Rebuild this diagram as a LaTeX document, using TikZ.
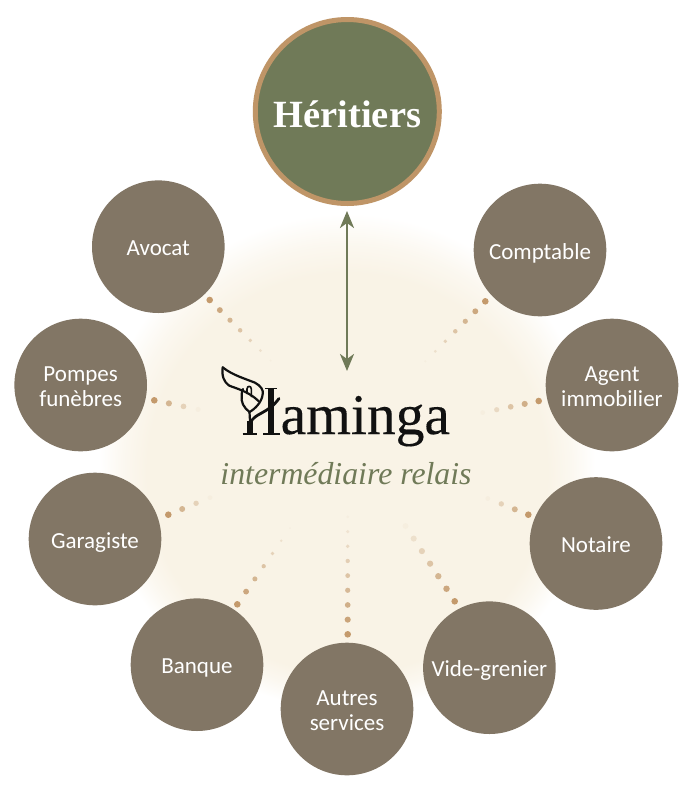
\documentclass[tikz,border=0pt]{standalone}
\usepackage{fontspec}
\setmainfont{Liberation Serif}
\newfontfamily\lblfont{Carlito}
\newfontfamily\logofont[FakeBold=0.25]{Liberation Serif}
\usetikzlibrary{arrows.meta}
\definecolor{greyb}{HTML}{827665}
\definecolor{oliveb}{HTML}{707A58}
\definecolor{ringb}{HTML}{BF9567}
\definecolor{dotb}{HTML}{C49A6C}
\definecolor{creamb}{HTML}{F9F3E6}
\definecolor{inkb}{HTML}{111111}
\pgfdeclareradialshading{glowb}{\pgfpoint{0bp}{-12bp}}{
  color(0bp)=(creamb); color(12.5bp)=(creamb); color(14bp)=(creamb!60!white); color(15.5bp)=(white); color(50bp)=(white)}
\newcommand{\lowered}[2][10.5pt]{\raisebox{-#1}[0pt][0pt]{\begin{tabular}{@{}c@{}}#2\end{tabular}}}
\tikzset{
  x=1pt,y=-1pt,
  svc/.style={circle,fill=greyb,minimum size=132.6pt,inner sep=0pt,text=white,
    font=\lblfont\fontsize{23}{24.8}\selectfont},
  top/.style={circle,fill=oliveb,draw=ringb,line width=5pt,minimum size=184pt,inner sep=0pt,text=white,
    font=\bfseries\fontsize{38.5}{42}\selectfont},
  logoline/.style={draw=inkb,line width=2.2pt,line cap=round,line join=round},
  hstem/.style={draw=inkb,line width=5.5pt},
  hserif/.style={draw=inkb,line width=1.7pt},
  link/.style={draw=oliveb,line width=2.4pt,{Stealth[length=17pt,width=14pt,inset=5pt]}-{Stealth[length=17pt,width=14pt,inset=5pt]}},
}
\newcommand{\dotrun}[7]{% x y dx dy n r0 r1
  \foreach \i in {1,...,#5}{
    \pgfmathsetmacro{\px}{#1+(\i-1)*(#3)}
    \pgfmathsetmacro{\py}{#2+(\i-1)*(#4)}
    \pgfmathsetmacro{\pr}{#6+(\i-1)*(#7-#6)/(#5-1)}
    \pgfmathsetmacro{\po}{1-0.95*(\i-1)/(#5-1)}
    \fill[dotb,opacity=\po] (\px,\py) circle (\pr);
  }}
\begin{document}
\begin{tikzpicture}
\useasboundingbox (0,0) rectangle (690,788);
\begin{scope}
\clip (0,0) rectangle (690,788);
\shade[shading=glowb] (347,329) circle (400);
\end{scope}
\dotrun{209.7}{300}{10.15}{10.1}{7}{3.3}{1.2}
\dotrun{154.3}{400.3}{14.6}{3.05}{4}{3.3}{2.6}
\dotrun{485.3}{301.3}{-10}{10}{7}{3.3}{1.2}
\dotrun{538.7}{401}{-14}{2.9}{5}{3.3}{2.4}
\dotrun{528.3}{514.7}{-13.5}{-5.4}{4}{3.3}{2.4}
\dotrun{168.3}{514.7}{13.9}{-5.7}{4}{3.3}{2.4}
\dotrun{237.3}{604.3}{8.8}{-12.7}{7}{3.3}{1.0}
\dotrun{347.7}{634.3}{0}{-14.67}{9}{3.3}{1.5}
\dotrun{454.7}{601.3}{-8.2}{-12.55}{7}{3.3}{3}
\node[top] (heirs) at (347.3,111.5) {\lowered[14pt]{Héritiers}};
\node[svc] (avocat) at (158.3,246.7) {\lowered{Avocat}};
\node[svc] (comptable) at (540,250) {\lowered{Comptable}};
\node[svc] (pompes) at (80.7,385) {\lowered{Pompes\\funèbres}};
\node[svc] (agent) at (612,385) {\lowered{Agent\\immobilier}};
\node[svc] (garagiste) at (95,539) {\lowered{Garagiste}};
\node[svc] (notaire) at (596,543.5) {\lowered{Notaire}};
\node[svc] (banque) at (197,664.7) {\lowered{Banque}};
\node[svc] (videg) at (489.4,667.7) {\lowered{Vide-grenier}};
\node[svc] (autres) at (347,709) {\lowered{Autres\\services}};
\coordinate (linktop) at (347,211);
\coordinate (linkbot) at (347,371);
\draw[link] (linktop) -- (linkbot);
% logo
\node[anchor=base west,inner sep=0pt,text=inkb,font=\logofont\fontsize{57.5}{60}\selectfont] (logotext) at (280.5,434) {aminga};
\node[anchor=base,inner sep=0pt,text=oliveb,font=\itshape\fontsize{31.8}{34}\selectfont] (tagline) at (346,484) {intermédiaire relais};
\draw[hstem] (271.2,388.5) -- (271.2,434.5);
\draw[hserif] (265,388.6) -- (277,388.6);
\draw[hserif] (263.3,434.3) -- (280,434.3);
\draw[hstem] (250,421) -- (250,434.5);
\draw[hserif] (242.5,434.3) -- (257,434.3);
\draw[logoline,line width=2.8pt] (250.5,423) .. controls (254,413) and (268,414) .. (279,398.5);
\draw[logoline] (250,421) -- (249.5,412);
\draw[logoline] (222.7,367.3) .. controls (232,375) and (246,379) .. (255,382.7)
  .. controls (261,386) and (263.5,390) .. (262.7,394)
  .. controls (262,402) and (255,409) .. (249.5,412)
  .. controls (244,408) and (240.5,402) .. (241.7,395)
  .. controls (241.7,392) and (242,390) .. (243,389);
\draw[logoline] (222.7,367.3) .. controls (221.5,376) and (224,382) .. (229,385.5)
  .. controls (236,388.5) and (248,391) .. (258.5,401);
\draw[draw=inkb,line width=1.6pt,line cap=round] (247,393.5) -- (247,389) .. controls (247,385.5) and (251.3,385.5) .. (251.3,389) -- (251.3,396.5);
\end{tikzpicture}
\end{document}
